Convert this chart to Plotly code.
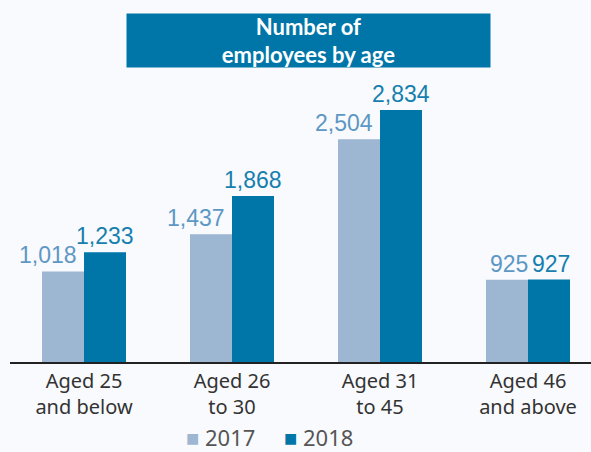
import plotly.graph_objects as go

categories = ["Aged 25<br>and below", "Aged 26<br>to 30", "Aged 31<br>to 45", "Aged 46<br>and above"]
values_2017 = [1018, 1437, 2504, 925]
values_2018 = [1233, 1868, 2834, 927]
series_names = ["2017", "2018"]
title_text = "Number of<br>employees by age"

W, H = 591, 452
c17, c18 = "#9db6d1", "#0076a8"
t17, t18 = "#5d97c4", "#167fae"
bg = "#f8fafd"

fig = go.Figure()
fig.add_bar(x=categories, y=values_2017, name=series_names[0], marker_color=c17,
            marker_line_width=0, showlegend=False, hoverinfo="skip")
fig.add_bar(x=categories, y=values_2018, name=series_names[1], marker_color=c18,
            marker_line_width=0, showlegend=False, hoverinfo="skip")

# value labels
shift17 = [-36, -36, -36, -19]
shift18 = [21, 21, 21, 23]
for i, cat in enumerate(categories):
    fig.add_annotation(x=cat, y=values_2017[i], xref="x", yref="y", text=f"{values_2017[i]:,}",
                       showarrow=False, xshift=shift17[i], yshift=1, yanchor="bottom",
                       font=dict(family="Liberation Sans, Arial", size=23, color=t17))
    fig.add_annotation(x=cat, y=values_2018[i], xref="x", yref="y", text=f"{values_2018[i]:,}",
                       showarrow=False, xshift=shift18[i], yshift=1, yanchor="bottom",
                       font=dict(family="Liberation Sans, Arial", size=23, color=t18))

# title box
fig.add_annotation(x=308 / W, y=(362 - 40.5) / 362, xref="paper", yref="paper",
                   xanchor="center", yanchor="middle", text=f"<b>{title_text}</b>",
                   showarrow=False, bgcolor=c18, width=363, height=53, borderpad=0,
                   font=dict(family="Lato, Open Sans", size=22, color="white"))

# legend
legend_text = (f"<span style='color:{c17}'>■</span> {series_names[0]}"
               f"     <span style='color:{c18}'>■</span> {series_names[1]}")
fig.add_annotation(x=269 / W, y=(362 - 437) / 362, xref="paper", yref="paper",
                   xanchor="center", yanchor="middle", text=legend_text,
                   showarrow=False, font=dict(family="Noto Sans", size=22, color="#555555"))

fig.update_layout(
    width=W, height=H,
    margin=dict(l=0, r=0, t=0, b=90),
    paper_bgcolor=bg, plot_bgcolor=bg,
    barmode="group", bargap=0.4324, bargroupgap=0,
    xaxis=dict(domain=[10 / W, 1], range=[-0.5, 3.4257], showline=True, linecolor="#222222",
               linewidth=2, ticks="", showgrid=False, zeroline=False,
               tickfont=dict(family="Noto Sans", size=20, color="#333333")),
    yaxis=dict(range=[0, 4071], visible=False, showgrid=False, zeroline=False),
)

fig.write_html("out.html")
